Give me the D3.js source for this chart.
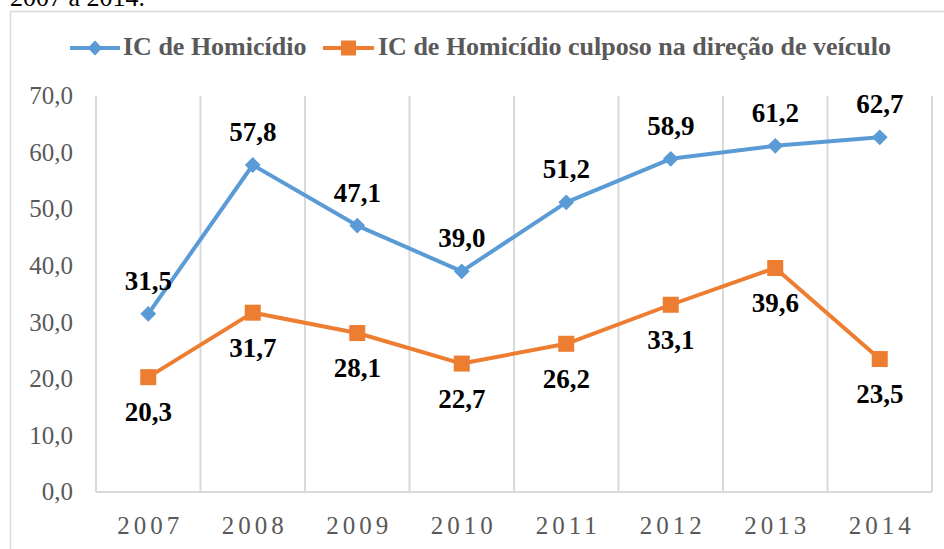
<!DOCTYPE html>
<html>
<head>
    <meta charset="UTF-8">
    <script src="https://cdn.jsdelivr.net/npm/d3@7"></script>
</head>
<body style="margin:0">
<svg></svg>
<script>
    // data
    const years = ['2007', '2008', '2009', '2010', '2011', '2012', '2013', '2014'];
    const homicidio = [31.5, 57.8, 47.1, 39.0, 51.2, 58.9, 61.2, 62.7];
    const culposo = [20.3, 31.7, 28.1, 22.7, 26.2, 33.1, 39.6, 23.5];
    const yTicks = [0, 10, 20, 30, 40, 50, 60, 70];
    const seriesNames = ['IC de Homicídio', 'IC de Homicídio culposo na direção de veículo'];

    const width = 944, height = 549;
    const svg = d3.select('svg').attr('width', width).attr('height', height);

    const fmt = v => v.toFixed(1).replace('.', ',');

    // every text goes through this so the serif face is set on the element itself
    const addText = (sel, size, bold) => sel.append('text')
        .attr('font-family', 'Times New Roman')
        .style('font-family', 'Times New Roman, Liberation Serif, serif')
        .attr('font-size', size)
        .attr('font-weight', bold ? 'bold' : 'normal');

    // caption fragment above the chart (cut off in the original too)
    addText(svg, 26, false)
        .attr('x', 10).attr('y', 6)
        .attr('fill', '#000')
        .text('2007 a 2014.');

    // chart border
    svg.append('rect')
        .attr('x', 10.5).attr('y', 11.5)
        .attr('width', 960).attr('height', 560)
        .attr('fill', 'none')
        .attr('stroke', '#d9d9d9')
        .attr('stroke-width', 1.5);

    const x = d3.scaleBand().domain(years).range([96, 932]);
    const y = d3.scaleLinear().domain([0, 70]).range([492, 96]);

    // vertical grid lines at category boundaries
    const bounds = years.map(d => x(d)).concat([x.range()[1]]);
    svg.append('g')
        .selectAll('line')
        .data(bounds)
        .join('line')
        .attr('x1', d => d).attr('x2', d => d)
        .attr('y1', y(70)).attr('y2', y(0))
        .attr('stroke', '#d9d9d9')
        .attr('stroke-width', 2);

    // baseline
    svg.append('line')
        .attr('x1', x.range()[0]).attr('x2', x.range()[1])
        .attr('y1', y(0)).attr('y2', y(0))
        .attr('stroke', '#d9d9d9')
        .attr('stroke-width', 2);

    // y tick labels
    const yAxis = svg.append('g');
    yTicks.forEach(t => {
        addText(yAxis, 25, false)
            .attr('x', 73)
            .attr('y', y(t))
            .attr('dy', '0.33em')
            .attr('text-anchor', 'end')
            .attr('fill', '#595959')
            .text(fmt(t));
    });

    // x tick labels
    const xAxis = svg.append('g');
    years.forEach(yr => {
        addText(xAxis, 25, false)
            .attr('x', x(yr) + x.bandwidth() / 2 + 2)
            .attr('y', 534)
            .attr('text-anchor', 'middle')
            .attr('letter-spacing', 4)
            .attr('fill', '#595959')
            .text(yr);
    });

    const cx = i => x(years[i]) + x.bandwidth() / 2;
    const line = d3.line().x((d, i) => cx(i)).y(d => y(d));

    // orange series
    svg.append('path')
        .datum(culposo)
        .attr('d', line)
        .attr('fill', 'none')
        .attr('stroke', '#ED7D31')
        .attr('stroke-width', 4)
        .attr('stroke-linejoin', 'round');
    svg.append('g')
        .selectAll('rect')
        .data(culposo)
        .join('rect')
        .attr('x', (d, i) => cx(i) - 8)
        .attr('y', d => y(d) - 8)
        .attr('width', 16).attr('height', 16)
        .attr('fill', '#ED7D31');

    // blue series
    svg.append('path')
        .datum(homicidio)
        .attr('d', line)
        .attr('fill', 'none')
        .attr('stroke', '#5B9BD5')
        .attr('stroke-width', 4)
        .attr('stroke-linejoin', 'round');
    svg.append('g')
        .selectAll('path')
        .data(homicidio)
        .join('path')
        .attr('d', d3.symbol(d3.symbolSquare, 125))
        .attr('transform', (d, i) => `translate(${cx(i)},${y(d)}) rotate(45)`)
        .attr('fill', '#5B9BD5');

    // data labels: blue above, orange below
    const labels = svg.append('g');
    homicidio.forEach((v, i) => {
        addText(labels, 27, true)
            .attr('x', cx(i)).attr('y', y(v) - 24)
            .attr('text-anchor', 'middle')
            .attr('fill', '#000')
            .text(fmt(v));
    });
    culposo.forEach((v, i) => {
        addText(labels, 27, true)
            .attr('x', cx(i)).attr('y', y(v) + 44)
            .attr('text-anchor', 'middle')
            .attr('fill', '#000')
            .text(fmt(v));
    });

    // legend
    const legend = svg.append('g').attr('transform', 'translate(0,48)');
    legend.append('line')
        .attr('x1', 70).attr('x2', 120)
        .attr('stroke', '#5B9BD5').attr('stroke-width', 4);
    legend.append('path')
        .attr('d', d3.symbol(d3.symbolSquare, 110))
        .attr('transform', 'translate(95,0) rotate(45)')
        .attr('fill', '#5B9BD5');
    addText(legend, 26, true)
        .attr('x', 123).attr('y', 7)
        .attr('fill', '#595959')
        .text(seriesNames[0]);
    legend.append('line')
        .attr('x1', 323).attr('x2', 374)
        .attr('stroke', '#ED7D31').attr('stroke-width', 4);
    legend.append('rect')
        .attr('x', 341).attr('y', -7.5).attr('width', 15).attr('height', 15)
        .attr('fill', '#ED7D31');
    addText(legend, 26, true)
        .attr('x', 378).attr('y', 7)
        .attr('fill', '#595959')
        .text(seriesNames[1]);
</script>
</body>
</html>
